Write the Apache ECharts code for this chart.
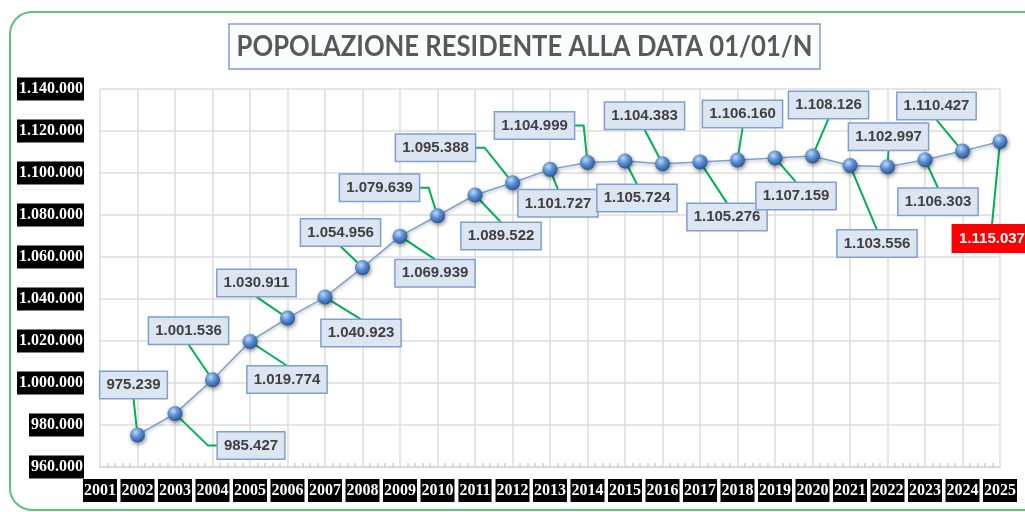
<!DOCTYPE html>
<html>
<head>
<meta charset="utf-8">
<script src="https://cdn.jsdelivr.net/npm/echarts@6/dist/echarts.min.js"></script>
<style>
  html, body { margin: 0; padding: 0; background: #fff; }
  #chart { width: 1025px; height: 512px; }
</style>
</head>
<body>
<div id="chart"></div>
<script>
// anni sull'asse x (il 2001 non ha valore)
var years = ['2001', '2002', '2003', '2004', '2005', '2006', '2007', '2008', '2009', '2010',
  '2011', '2012', '2013', '2014', '2015', '2016', '2017', '2018', '2019', '2020',
  '2021', '2022', '2023', '2024', '2025'];

// popolazione residente al 01/01, dal 2002 al 2025
var popolazione = [975239, 985427, 1001536, 1019774, 1030911, 1040923, 1054956, 1069939,
  1079639, 1089522, 1095388, 1101727, 1104999, 1105724, 1104383, 1105276, 1106160,
  1107159, 1108126, 1103556, 1102997, 1106303, 1110427, 1115037];

var yTicks = [960000, 980000, 1000000, 1020000, 1040000, 1060000, 1080000, 1100000, 1120000, 1140000];

// spostamento del centro etichetta rispetto al punto (px), dal 2002 al 2025
var labelOffsets = [[-4, -50], [76, 32], [-24, -49], [37, 38], [-31, -35], [36, 36], [-22, -35],
  [35, 37], [-58, -28], [26, 41], [-77, -35], [8, 34], [-53, -37], [12, 37], [-18, -48],
  [27, 55], [5, -46], [21, 38], [16, -51], [27, 78], [1, -30], [13, 42], [-26, -45], [-8, 97]];

var LABEL_FONT = 'bold 15px "Liberation Sans", Arial, sans-serif';
var ctx = document.createElement('canvas').getContext('2d');
ctx.font = LABEL_FONT;

function fmt(v) {
  return String(v).replace(/\B(?=(\d{3})+(?!\d))/g, '.');
}

// posizione del riquadro etichetta a partire dal punto sul grafico
function labelBox(api, i) {
  var pt = api.coord([api.value(0), api.value(1)]);
  var off = labelOffsets[i];
  var text = fmt(api.value(1));
  var w = ctx.measureText(text).width + 12 + 1.5;
  var h = 27.5;
  return { pt: pt, text: text, cx: pt[0] + off[0], cy: pt[1] + off[1], w: w, h: h };
}

var myChart = echarts.init(document.getElementById('chart'));

var pointData = popolazione.map(function (v, i) { return [i + 1, v]; });

var option = {
  animation: false,
  graphic: [
    {
      type: 'rect',
      shape: { x: 10, y: 12, width: 1040, height: 498, r: 22 },
      style: { fill: 'none', stroke: '#5cc27a', lineWidth: 2 },
      silent: true
    },
    {
      type: 'rect',
      shape: { x: 229, y: 24, width: 591, height: 45 },
      style: { fill: '#fbfcfe', stroke: '#7f9fcf', lineWidth: 1.5 },
      silent: true
    },
    {
      type: 'text',
      x: 524.5,
      y: 47,
      scaleX: 0.915,
      style: {
        text: 'POPOLAZIONE RESIDENTE ALLA DATA 01/01/N',
        fill: '#595959',
        font: 'bold 28px Lato, "Liberation Sans", sans-serif',
        align: 'center',
        verticalAlign: 'middle'
      }
    }
  ],
  grid: { left: 100, right: 25, top: 89, bottom: 45 },
  xAxis: [
    {
      type: 'category',
      data: years,
      boundaryGap: false,
      axisLine: { lineStyle: { color: '#d9d9d9', width: 2 } },
      axisTick: { show: false },
      splitLine: { show: true, lineStyle: { color: '#dcdcdc', width: 1.5 } },
      axisLabel: {
        interval: 0,
        margin: 12,
        color: '#ffffff',
        fontFamily: '"Liberation Serif", serif',
        fontWeight: 'bold',
        fontSize: 16,
        lineHeight: 18,
        backgroundColor: '#000000',
        padding: [3, 1, 2, 1]
      }
    },
    {
      // solo per le tacche secondarie
      type: 'value',
      min: 0,
      max: 24,
      interval: 1,
      position: 'bottom',
      axisLine: { show: false },
      axisLabel: { show: false },
      splitLine: { show: false },
      axisTick: { show: false, inside: true },
      minorTick: { show: true, splitNumber: 5, length: 4, lineStyle: { color: '#d0d0d0', width: 1.5 } }
    }
  ],
  yAxis: {
    type: 'value',
    min: yTicks[0],
    max: yTicks[yTicks.length - 1],
    interval: 20000,
    axisLine: { show: false },
    axisTick: { show: false },
    splitLine: { lineStyle: { color: '#dcdcdc', width: 1.5 } },
    axisLabel: {
      margin: 16,
      color: '#ffffff',
      fontFamily: '"Liberation Serif", serif',
      fontWeight: 'bold',
      fontSize: 16,
      lineHeight: 18,
      backgroundColor: '#000000',
      padding: [3, 1, 2, 2],
      formatter: function (v) { return fmt(v); }
    }
  },
  series: [
    {
      // linee guida verdi
      type: 'custom',
      data: pointData,
      encode: { x: 0, y: 1 },
      z: 2,
      silent: true,
      renderItem: function (params, api) {
        var b = labelBox(api, params.dataIndex);
        var left = b.cx - b.w / 2, right = b.cx + b.w / 2;
        var top = b.cy - b.h / 2, bottom = b.cy + b.h / 2;
        var pts;
        if (b.pt[0] >= left && b.pt[0] <= right) {
          pts = [[b.cx, b.pt[1] < top ? top : bottom], b.pt];
        } else if (b.pt[0] > right) {
          pts = [[right, b.cy], [right + 9, b.cy], b.pt];
        } else {
          pts = [[left, b.cy], [left - 9, b.cy], b.pt];
        }
        return {
          type: 'polyline',
          shape: { points: pts },
          style: { stroke: '#00b050', lineWidth: 2, fill: null }
        };
      }
    },
    {
      type: 'line',
      data: [null].concat(popolazione),
      symbol: 'circle',
      symbolSize: 15,
      z: 3,
      lineStyle: {
        color: '#7f9fd0',
        width: 1.5,
        shadowColor: 'rgba(0,0,0,0.25)',
        shadowBlur: 3,
        shadowOffsetY: 2
      },
      itemStyle: {
        color: new echarts.graphic.RadialGradient(0.38, 0.32, 0.75, [
          { offset: 0, color: '#bcd8f7' },
          { offset: 0.45, color: '#5a8fd2' },
          { offset: 1, color: '#244f8c' }
        ]),
        shadowColor: 'rgba(0,0,0,0.45)',
        shadowBlur: 4,
        shadowOffsetX: 1,
        shadowOffsetY: 2
      },
      label: { show: false }
    },
    {
      // etichette con i valori
      type: 'custom',
      data: pointData,
      encode: { x: 0, y: 1 },
      z: 4,
      renderItem: function (params, api) {
        var b = labelBox(api, params.dataIndex);
        var last = params.dataIndex === popolazione.length - 1;
        return {
          type: 'text',
          x: b.cx,
          y: b.cy,
          style: {
            text: b.text,
            font: LABEL_FONT,
            lineHeight: 17,
            fill: last ? '#ffffff' : '#404040',
            align: 'center',
            verticalAlign: 'middle',
            backgroundColor: last ? '#ff0000' : '#dce6f2',
            borderColor: last ? '#ff0000' : '#7f9fcf',
            borderWidth: 1.5,
            padding: [5, 6, 4, 6]
          }
        };
      }
    }
  ]
};

myChart.setOption(option);
</script>
</body>
</html>
